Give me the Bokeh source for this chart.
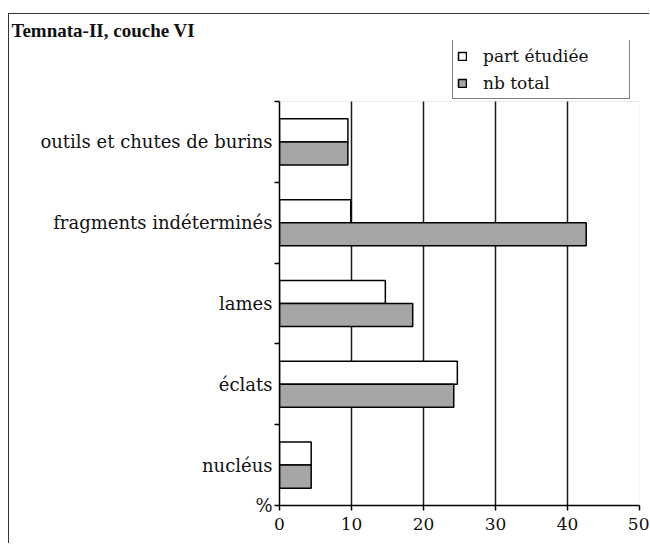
from bokeh.plotting import figure
from bokeh.models import (Range1d, LinearAxis, FixedTicker, Legend, LegendItem,
                          ColumnDataSource, BoxAnnotation, InlineStyleSheet)
from bokeh.transform import dodge
from bokeh.embed import file_html
from bokeh.resources import INLINE

# ---- data ----
categories = ["nucléus", "éclats", "lames", "fragments indéterminés", "outils et chutes de burins"]
part_etudiee = [4.4, 24.7, 14.7, 9.9, 9.5]
nb_total = [4.4, 24.2, 18.5, 42.6, 9.5]
x_ticks = [0, 10, 20, 30, 40, 50]
grid_ticks = [10, 20, 30, 40]
series_labels = ["part étudiée", "nb total"]
title_text = "Temnata-II, couche VI"
unit_text = "%"

LABEL_FONT = "DejaVu Serif"
TITLE_FONT = "Liberation Serif"

n = len(categories)
PLOT_PX = 404        # height of the category area
TOP_SPACE_PX = 61    # free space above it (legend)
y_end = n * (PLOT_PX + TOP_SPACE_PX) / PLOT_PX

centers = [i + 0.5 for i in range(n)]   # band centre of each category
source = ColumnDataSource(dict(pos=centers, cat=categories, part=part_etudiee, total=nb_total))
grid_source = ColumnDataSource(dict(x=grid_ticks))

p = figure(x_range=Range1d(0, 50), y_range=Range1d(0, y_end),
           frame_width=360, frame_height=PLOT_PX + TOP_SPACE_PX,
           min_border_left=279, min_border_right=10, min_border_top=40, min_border_bottom=38,
           output_backend="svg", toolbar_location=None,
           y_axis_location=None, x_axis_location="below")

p.background_fill_color = "white"
p.border_fill_color = "white"
p.outline_line_color = None
p.xgrid.visible = False
p.ygrid.visible = False

# outer frame of the figure (left and top edges only, as in the reference)
p.stylesheets = [InlineStyleSheet(css="""
:host::before {
  content: "";
  position: absolute;
  left: 8px; top: 13px; right: 0px; bottom: 0px;
  border-left: 1.5px solid #333333;
  border-top: 1.5px solid #333333;
  pointer-events: none;
  z-index: 10;
}
""")]

# chart title
p.title.text = title_text
p.title.align = "left"
p.title.offset = -268
p.title.standoff = 0
p.title.text_font = TITLE_FONT
p.title.text_font_style = "bold"
p.title.text_font_size = "19px"
p.title.text_color = "#111111"

# plot-area border (light grey) limited to the category area
area = BoxAnnotation(left=0, right=50, bottom=0, top=n, fill_color=None,
                     line_color="#b5b5b5", line_width=1, level="underlay")
p.add_layout(area)

# vertical grid lines, limited to the category area, drawn below the bars
p.segment(x0="x", y0=0, x1="x", y1=n, source=grid_source,
          line_color="#1a1a1a", line_width=1.5)

r1 = p.hbar(y=dodge("pos", 0.1425), left=0, right="part", height=0.285,
            fill_color="white", line_color="black", line_width=1.5, source=source)
r2 = p.hbar(y=dodge("pos", -0.1425), left=0, right="total", height=0.285,
            fill_color="#a6a6a6", line_color="black", line_width=1.5, source=source)

# left axis 1: line + ticks at the boundaries between categories
boundaries = list(range(n + 1))
tick_axis = LinearAxis(ticker=FixedTicker(ticks=boundaries), bounds=(0, n))
tick_axis.axis_line_color = "black"
tick_axis.axis_line_width = 1.5
tick_axis.major_tick_line_color = "black"
tick_axis.major_tick_line_width = 1.5
tick_axis.major_tick_out = 5
tick_axis.major_tick_in = 0
tick_axis.minor_tick_line_color = None
tick_axis.major_label_overrides = {b: "" for b in boundaries}
tick_axis.major_label_standoff = 0
tick_axis.major_label_text_font_size = "10px"
p.add_layout(tick_axis, "left")

# left axis 2: category names at band centres, unit label at the origin
label_axis = LinearAxis(ticker=FixedTicker(ticks=[0.0] + centers))
overrides = {0.0: unit_text}
for c, name in zip(centers, categories):
    overrides[c] = name
label_axis.major_label_overrides = overrides
label_axis.axis_line_color = None
label_axis.major_tick_line_color = None
label_axis.major_tick_out = 0
label_axis.major_tick_in = 0
label_axis.minor_tick_line_color = None
label_axis.major_label_standoff = 2
label_axis.major_label_text_font = LABEL_FONT
label_axis.major_label_text_font_size = "18px"
label_axis.major_label_text_color = "#111111"
p.add_layout(label_axis, "left")

xa = p.xaxis[0]
xa.ticker = FixedTicker(ticks=x_ticks)
xa.axis_line_color = "black"
xa.axis_line_width = 1.5
xa.major_tick_line_color = "black"
xa.major_tick_line_width = 1.5
xa.major_tick_out = 5
xa.major_tick_in = 0
xa.minor_tick_line_color = None
xa.major_label_standoff = 7
xa.major_label_text_font = LABEL_FONT
xa.major_label_text_font_size = "17px"
xa.major_label_text_color = "#111111"

# series legend in the free space above the category area
legend = Legend(items=[LegendItem(label=series_labels[0], renderers=[r1]),
                       LegendItem(label=series_labels[1], renderers=[r2])],
                location=(173, 406))
legend.border_line_color = "black"
legend.border_line_width = 1.5
legend.background_fill_color = "white"
legend.background_fill_alpha = 1
legend.label_text_font = LABEL_FONT
legend.label_text_font_size = "17px"
legend.label_text_color = "#111111"
legend.glyph_width = 10
legend.glyph_height = 10
legend.label_standoff = 16
legend.label_width = 142
legend.padding = 4
legend.spacing = 4
legend.label_height = 23
legend.margin = 0
p.add_layout(legend)

open("out.html", "w").write(file_html(p, INLINE))
